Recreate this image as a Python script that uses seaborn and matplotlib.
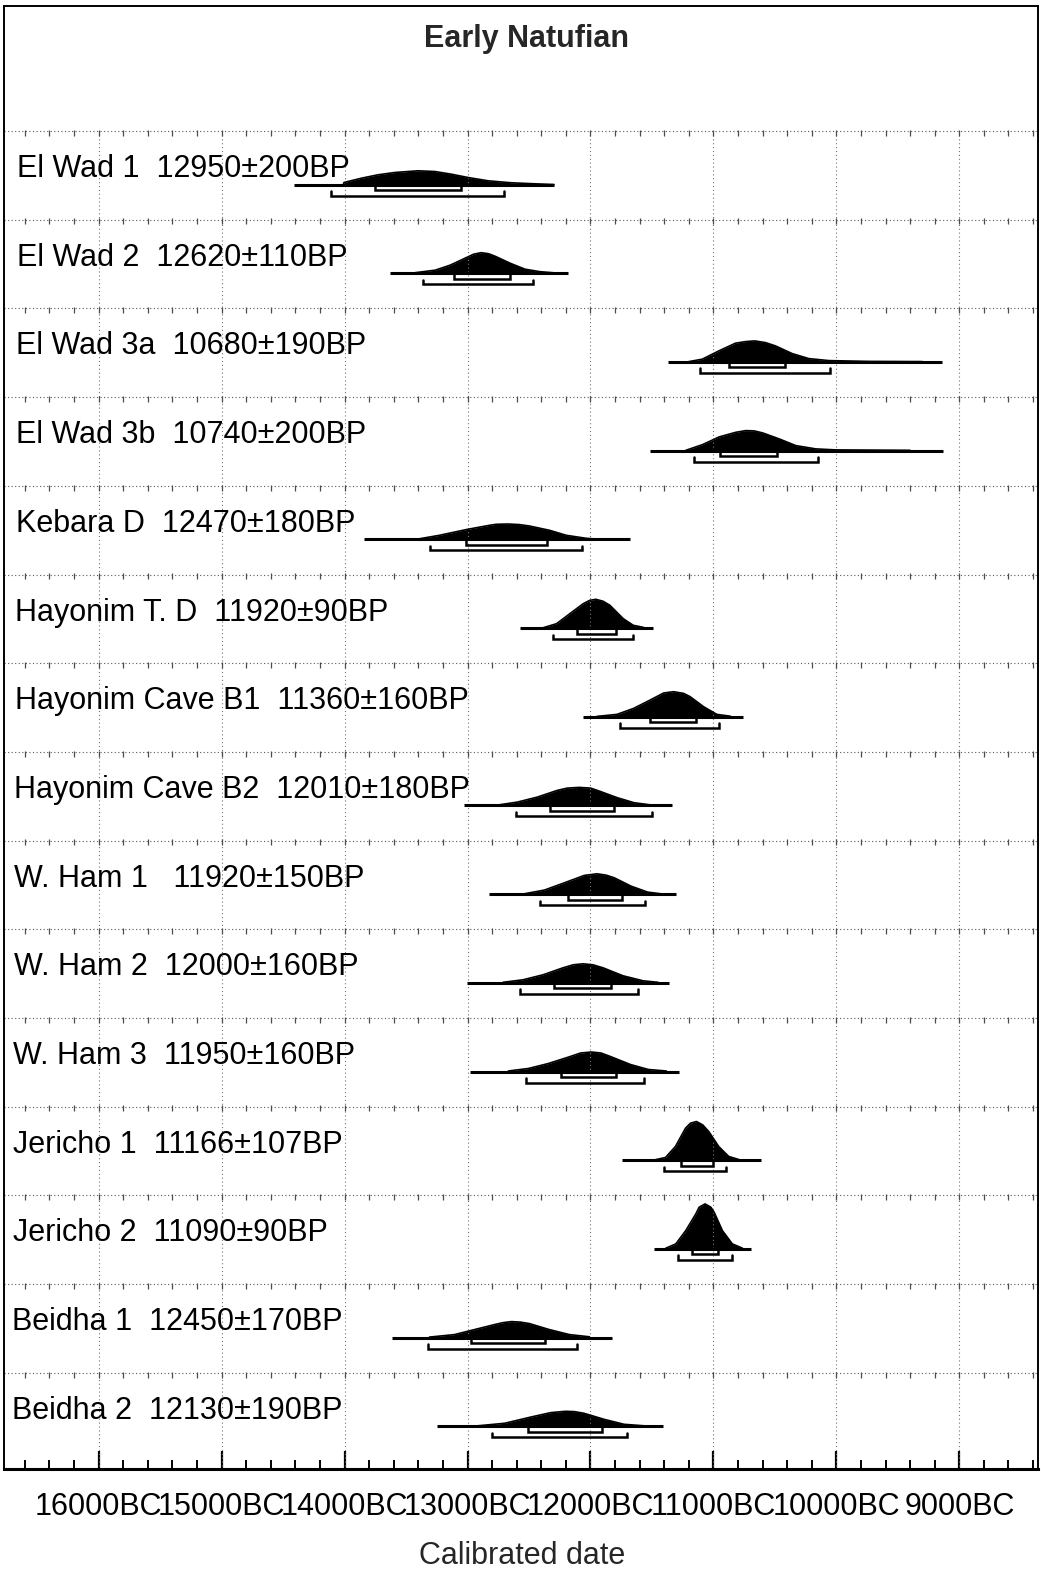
import numpy as np
import pandas as pd
import matplotlib
matplotlib.use("Agg")
import matplotlib.pyplot as plt
from matplotlib.ticker import MultipleLocator, FixedLocator, FixedFormatter
from matplotlib.transforms import blended_transform_factory
import seaborn as sns

# ---------------- data (years cal BC) ----------------
sites = ["El Wad 1  12950±200BP", "El Wad 2  12620±110BP", "El Wad 3a  10680±190BP",
         "El Wad 3b  10740±200BP", "Kebara D  12470±180BP", "Hayonim T. D  11920±90BP",
         "Hayonim Cave B1  11360±160BP", "Hayonim Cave B2  12010±180BP",
         "W. Ham 1   11920±150BP", "W. Ham 2  12000±160BP", "W. Ham 3  11950±160BP",
         "Jericho 1  11166±107BP", "Jericho 2  11090±90BP", "Beidha 1  12450±170BP",
         "Beidha 2  12130±190BP"]

# extent of the plotted distribution (baseline)
span_from = [14414, 13630, 11368, 11517, 13846, 12574, 12061, 13029, 12822, 13004, 12977, 11743, 11482, 13611, 13250]
span_to   = [12297, 12182,  9139,  9136, 11682, 11489, 10760, 11334, 11305, 11361, 11277, 10613, 10691, 11821, 11414]

# 68.2% and 95.4% ranges
r68_from = [13755, 13109, 10875, 10948, 13011, 12113, 11514, 12329, 12180, 12297, 12237, 11260, 11176, 12968, 12505]
r68_to   = [13055, 12654, 10420, 10482, 12352, 11793, 11140, 11809, 11744, 11833, 11789, 11005, 10959, 12366, 11905]
r95_from = [14107, 13361, 11111, 11157, 13309, 12303, 11758, 12609, 12411, 12573, 12521, 11404, 11287, 13318, 12797]
r95_to   = [12706, 12467, 10054, 10153, 12068, 11652, 10953, 11497, 11557, 11613, 11562, 10894, 10846, 12106, 11706]

# probability distributions (relative probability)
el_wad_1_yr = [14010, 14005, 13863, 13728, 13592, 13403, 13267, 13131, 12996, 12833, 12643, 12454, 12297]
el_wad_1_p  = [0, 2.0, 6.3, 9.7, 12.0, 13.7, 13.0, 10.3, 7.0, 3.7, 1.7, 0.7, 0]
el_wad_2_yr = [13426, 13264, 13142, 13020, 12950, 12890, 12830, 12776, 12654, 12532, 12410, 12288]
el_wad_2_p  = [0.5, 3, 8, 15, 19, 20.5, 19.5, 17, 10, 4, 1.5, 0.3]
el_wad_3a_yr = [11200, 11091, 10956, 10821, 10739, 10664, 10577, 10495, 10359, 10224, 10062, 9736, 9300]
el_wad_3a_p  = [0.3, 2.7, 11, 18.7, 20.3, 21, 19.3, 16, 8.3, 3.3, 1.3, 0.5, 0.3]
el_wad_3b_yr = [11224, 11088, 10953, 10818, 10736, 10669, 10600, 10465, 10330, 10167, 10004, 9400]
el_wad_3b_p  = [0.3, 6, 13.7, 18.3, 20, 19.7, 17.7, 11.7, 5, 1.7, 0.7, 0.3]
kebara_d_yr = [13393, 13228, 13011, 12821, 12767, 12672, 12577, 12496, 12333, 12197, 12035, 11953]
kebara_d_p  = [0.5, 4, 9.7, 14, 15, 15.3, 14.7, 13.3, 9, 4, 1, 0.3]
hayonim_td_yr = [12384, 12276, 12168, 12059, 12005, 11956, 11896, 11842, 11733, 11652, 11571]
hayonim_td_p  = [0.3, 4.3, 14.3, 24.3, 27.7, 28.7, 26.7, 22.7, 9.3, 2.7, 0.7]
hayonim_b1_yr = [11948, 11785, 11649, 11514, 11405, 11324, 11242, 11189, 11080, 10972, 10863]
hayonim_b1_p  = [0.3, 2.3, 8.3, 16.7, 23.7, 25, 23.3, 20, 10, 2.3, 0.5]
hayonim_b2_yr = [12758, 12595, 12432, 12270, 12188, 12093, 11999, 11944, 11782, 11646, 11511]
hayonim_b2_p  = [0.3, 3.3, 8.3, 15, 17.3, 18, 17.3, 15, 7.7, 2.7, 0.5]
w_ham_1_yr = [12538, 12375, 12212, 12050, 11947, 11874, 11806, 11671, 11535, 11427]
w_ham_1_p  = [0.3, 4, 11.3, 18.7, 20.3, 19, 16.3, 8, 2, 0.3]
w_ham_2_yr = [12711, 12549, 12386, 12223, 12140, 12061, 11980, 11898, 11735, 11572, 11451]
w_ham_2_p  = [0.5, 3, 8, 15, 18, 19, 18, 15, 7, 2, 0.5]
w_ham_3_yr = [12668, 12505, 12342, 12164, 12080, 11993, 11915, 11838, 11675, 11529, 11383]
w_ham_3_p  = [0.5, 3, 8, 15, 18.5, 19.5, 18.5, 15, 7, 2, 0.5]
jericho_1_yr = [11471, 11390, 11309, 11227, 11187, 11138, 11087, 11038, 10957, 10875, 10794]
jericho_1_p  = [0.5, 2.7, 13.7, 32, 37, 38.7, 35.3, 28.7, 13.7, 3.7, 0.7]
jericho_2_yr = [11387, 11306, 11225, 11143, 11116, 11068, 11021, 10994, 10927, 10846, 10764]
jericho_2_p  = [0.7, 5, 18.3, 35, 41.7, 45, 41.7, 36.7, 18.3, 5, 0.7]
beidha_1_yr = [13310, 13106, 12944, 12781, 12710, 12643, 12570, 12496, 12334, 12171, 12008]
beidha_1_p  = [0.5, 3, 8, 13, 15, 16, 15.5, 14, 8, 3, 0.8]
beidha_2_yr = [12916, 12699, 12483, 12322, 12203, 12132, 12052, 11890, 11727, 11566]
beidha_2_p  = [0.5, 3, 9.3, 13.7, 15, 14.7, 13, 7, 2, 0.5]

curve_years = [el_wad_1_yr, el_wad_2_yr, el_wad_3a_yr, el_wad_3b_yr, kebara_d_yr, hayonim_td_yr,
               hayonim_b1_yr, hayonim_b2_yr, w_ham_1_yr, w_ham_2_yr, w_ham_3_yr, jericho_1_yr,
               jericho_2_yr, beidha_1_yr, beidha_2_yr]
curve_prob = [el_wad_1_p, el_wad_2_p, el_wad_3a_p, el_wad_3b_p, kebara_d_p, hayonim_td_p,
              hayonim_b1_p, hayonim_b2_p, w_ham_1_p, w_ham_2_p, w_ham_3_p, jericho_1_p,
              jericho_2_p, beidha_1_p, beidha_2_p]

major_years = [16000, 15000, 14000, 13000, 12000, 11000, 10000, 9000]
major_labels = ["16000BC", "15000BC", "14000BC", "13000BC", "12000BC", "11000BC", "10000BC", "9000BC"]
title = "Early Natufian"
xlabel = "Calibrated date"

# ---------------- layout / style ----------------
W, H = 1041, 1571
ROW_PX = 88.7
ROW0_PX = 131.0
AX_L, AX_R, AX_T, AX_B = 4, 1038, 6, 1469
BASE = 53.5 / ROW_PX
B68 = 59.0 / ROW_PX
B95 = 64.5 / ROW_PX
TICKH = 4.5 / ROW_PX
PSCALE = 1.0 / ROW_PX
LABEL_Y = 38.0 / ROW_PX

sns.set_theme(style="white")
plt.rcParams['font.family'] = ['Liberation Sans', 'DejaVu Sans']
FS = 22

fig = plt.figure(figsize=(W / 100, H / 100), dpi=100)
ax = fig.add_axes([AX_L / W, 1 - AX_B / H, (AX_R - AX_L) / W, (AX_B - AX_T) / H])
ax.set_facecolor("white")
ax.set_xlim(16770, 8360)
ytop = (AX_T - ROW0_PX) / ROW_PX
ybot = (AX_B - ROW0_PX) / ROW_PX
ax.set_ylim(ybot, ytop)

n = len(sites)
# grid: row separators and vertical lines
grid_kw = dict(color="0.35", lw=0.8, linestyle=(0, (1, 2.2)))
ax.hlines(np.arange(n), 16770, 8360, **grid_kw)
ax.vlines(major_years, 0, ybot, color="0.45", lw=0.8, linestyle=(0, (1, 2.5)))
minor_years = np.arange(16600, 8359, -200)
for i in range(n):
    ax.plot(minor_years, np.full(len(minor_years), i + 0.02), ls="none", marker="|",
            ms=5, mew=0.9, color="0.3")

# long-form table of the curves for seaborn
rows = []
for i in range(n):
    for yr, p in zip(curve_years[i], curve_prob[i]):
        rows.append({"site": sites[i], "row": i, "year": yr, "top": i + BASE - p * PSCALE})
df = pd.DataFrame(rows)

for i in range(n):
    yb = i + BASE
    yrs = np.array(curve_years[i], float)
    pr = np.array(curve_prob[i], float)
    ax.fill_between(yrs, yb, yb - pr * PSCALE, color="black", lw=0)
    ax.hlines(yb, span_from[i], span_to[i], color="black", lw=2.2)
    for (a, b, yy) in ((r68_from[i], r68_to[i], i + B68), (r95_from[i], r95_to[i], i + B95)):
        ax.plot([a, a, b, b], [yy - TICKH, yy, yy, yy - TICKH], color="black", lw=1.8,
                solid_joinstyle="miter")

sns.lineplot(data=df, x="year", y="top", units="row", estimator=None, sort=False,
             color="black", lw=1.2, legend=False, ax=ax)
ax.set_xlabel("")
ax.set_ylabel("")

trans = blended_transform_factory(ax.transAxes, ax.transData)
for i in range(n):
    lx = 17 - 5 * i / (n - 1)
    ax.text((lx - AX_L) / (AX_R - AX_L), i + LABEL_Y, sites[i], transform=trans,
            ha="left", va="center", fontsize=FS, color="black")

# axis ticks
ax.xaxis.set_major_locator(FixedLocator(major_years))
ax.xaxis.set_major_formatter(FixedFormatter(major_labels))
ax.xaxis.set_minor_locator(MultipleLocator(200))
ax.tick_params(axis="x", which="major", direction="in", length=13, width=1.6,
               pad=16.5, labelsize=FS, color="black", labelcolor="black", bottom=True, top=False)
ax.tick_params(axis="x", which="minor", direction="in", length=6.5, width=1.4,
               color="black", bottom=True, top=False)
ax.tick_params(axis="y", left=False, right=False, labelleft=False)
ax.grid(False)
for s in ["left", "top", "right"]:
    ax.spines[s].set_color("black")
    ax.spines[s].set_linewidth(1.4)
ax.spines["bottom"].set_color("black")
ax.spines["bottom"].set_linewidth(2.2)

fig.text(527 / W, 1 - 39 / H, title, ha="center", va="center", fontsize=FS, fontweight="bold")
fig.text(522 / W, 1 - 1556 / H, xlabel, ha="center", va="center", fontsize=FS)

fig.savefig("out.png", dpi=100, facecolor="white")
